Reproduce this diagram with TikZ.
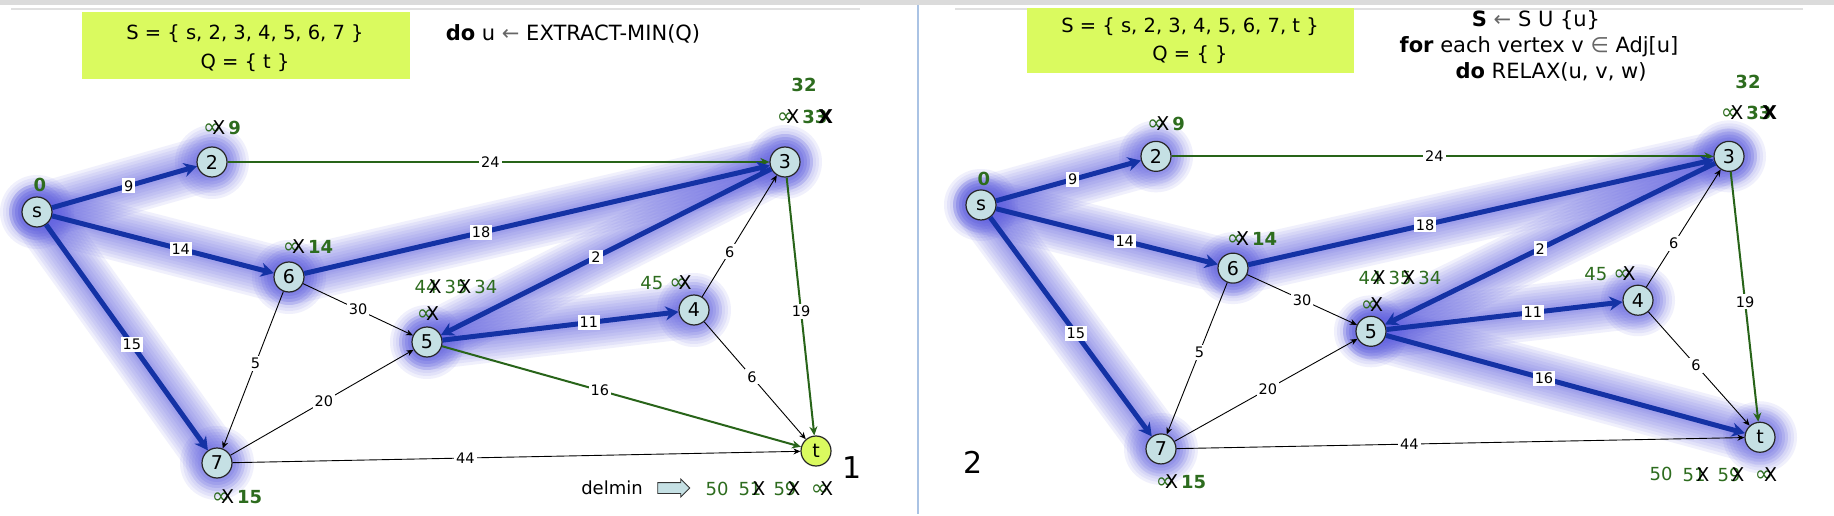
\documentclass[tikz,border=0pt]{standalone}
\usepackage{fontspec}
\setmainfont{DejaVu Sans}
\usetikzlibrary{arrows.meta,shapes.arrows}
\definecolor{nodefill}{RGB}{197,224,228}
\definecolor{tyellow}{RGB}{218,250,95}
\definecolor{boxyellow}{RGB}{218,250,95}
\definecolor{lblgreen}{RGB}{45,108,30}
\definecolor{edgegreen}{RGB}{40,100,25}
\definecolor{treeblue}{RGB}{20,50,165}
\definecolor{glowc}{RGB}{95,95,225}
\definecolor{divblue}{RGB}{170,195,228}
\newcommand\fs[1]{\fontsize{#1}{#1}\selectfont}
\newcommand\crs[1]{#1\kern-0.5em{\fs{19}\color{black}X}}
\newcommand\infsym{{\fs{22}∞}}
\tikzset{
 nd/.style={circle, draw=black!85, line width=1.2pt, fill=nodefill, minimum size=30pt, inner sep=0pt, font=\fs{19}},
 treeedge/.style={draw=treeblue, line width=5pt, -{Stealth[length=13pt,width=14pt]}},
 grnedge/.style={draw=edgegreen, line width=2pt, -{Stealth[length=9pt,width=8pt]}},
 thinedge/.style={draw=black, line width=0.9pt, -{Stealth[length=7pt,width=6pt]}},
 elab/.style={fill=white, inner sep=2pt, font=\fs{14.5}, text=black},
 dlab/.style={text=lblgreen, font=\fs{18}, inner sep=0pt},
 hdr/.style={font=\fs{19.5}, inner sep=0pt, text=black},
 code/.style={font=\fs{21}, inner sep=0pt, text=black},
}
\newcommand\glw[2]{\foreach \w in {56,50,44,38,32,26,20,14,10}{\draw[glowc, opacity=0.09, line width=\w pt, line cap=round] (#1) -- (#2);}}
\newcommand\glwn[1]{\foreach \r in {37,34,31,28,25,22,19}{\fill[glowc, opacity=0.09] (#1) circle (\r pt);}}
\newcommand\dgraph[2]{%
 \coordinate (#1cs) at (37,212);
 \coordinate (#1c2) at (212,162);
 \coordinate (#1c3) at (785,162);
 \coordinate (#1c6) at (289,277);
 \coordinate (#1c5) at (427,342);
 \coordinate (#1c4) at (694,310);
 \coordinate (#1c7) at (217,463);
 \coordinate (#1ct) at (816,451);
 \glw{#1cs}{#1c2}\glw{#1cs}{#1c6}\glw{#1cs}{#1c7}\glw{#1c6}{#1c3}\glw{#1c3}{#1c5}\glw{#1c5}{#1c4}%
 \glwn{#1cs}\glwn{#1c2}\glwn{#1c3}\glwn{#1c6}\glwn{#1c5}\glwn{#1c4}\glwn{#1c7}%
 \ifnum#2=1 \glw{#1c5}{#1ct}\glwn{#1ct}\fi
 \node[nd] (#1s) at (#1cs) {s};
 \node[nd] (#1n2) at (#1c2) {2};
 \node[nd] (#1n3) at (#1c3) {3};
 \node[nd] (#1n6) at (#1c6) {6};
 \node[nd] (#1n5) at (#1c5) {5};
 \node[nd] (#1n4) at (#1c4) {4};
 \node[nd] (#1n7) at (#1c7) {7};
 \ifnum#2=1 \node[nd] (#1t) at (#1ct) {t};\else \node[nd, fill=tyellow] (#1t) at (#1ct) {t};\fi
 \draw[treeedge] (#1s) -- node[elab, pos=0.53] (#1e9) {9} (#1n2);
 \draw[treeedge] (#1s) -- node[elab, pos=0.58] (#1e14) {14} (#1n6);
 \draw[treeedge] (#1s) -- node[elab, pos=0.53] (#1e15) {15} (#1n7);
 \draw[grnedge] (#1n2) -- node[elab, pos=0.485] (#1e24) {24} (#1n3);
 \draw[treeedge] (#1n6) -- node[elab, pos=0.38] (#1e18) {18} (#1n3);
 \draw[treeedge] (#1n3) -- node[elab, pos=0.53] (#1e2) {2} (#1n5);
 \draw[treeedge] (#1n5) -- node[elab, pos=0.62] (#1e11) {11} (#1n4);
 \draw[thinedge] (#1n6) -- node[elab, pos=0.5] (#1e30) {30} (#1n5);
 \draw[thinedge] (#1n6) -- node[elab, pos=0.46] (#1e5) {5} (#1n7);
 \draw[thinedge] (#1n7) -- node[elab, pos=0.51] (#1e20) {20} (#1n5);
 \draw[thinedge] (#1n7) -- node[elab, pos=0.41] (#1e44) {44} (#1t);
 \draw[thinedge] (#1n4) -- node[elab, pos=0.37] (#1e6a) {6} (#1n3);
 \draw[thinedge] (#1n4) -- node[elab, pos=0.47] (#1e6b) {6} (#1t);
 \draw[grnedge] (#1n3) -- node[elab, pos=0.52] (#1e19) {19} (#1t);
 \ifnum#2=1 \draw[treeedge] (#1n5) -- node[elab, pos=0.44] (#1e16) {16} (#1t);
 \else \draw[grnedge] (#1n5) -- node[elab, pos=0.44] (#1e16) {16} (#1t);\fi
 \node[dlab] (#1ds) at (40,185) {\textbf{0}};
 \node[dlab] (#1d2) at (222,128) {\crs{\infsym}\,\textbf{9}};
 \node[dlab] (#1d6) at (308,247) {\crs{\infsym}\,\textbf{14}};
 \node[dlab] (#1d3a) at (804,85) {\textbf{32}};
 \node[dlab] (#1d3b) at (805,117) {\crs{\infsym}\,\textbf{\crs{33}}};
 \node[dlab] (#1d5a) at (456,287) {\crs{44}\,\crs{35}\,34};
 \node[dlab] (#1d5b) at (428,314) {\crs{\infsym}};
 \node[dlab] (#1d4) at (666,283) {45\,\,\crs{\infsym}};
 \node[dlab] (#1d7) at (237,497) {\crs{\infsym}\,\textbf{15}};
 \node[dlab] (#1dt1) at (717,489) {50};
 \node[dlab] (#1dt2) at (752,489) {\crs{51}};
 \node[dlab] (#1dt3) at (787,489) {\crs{59}};
 \node[dlab] (#1dt4) at (822,489) {\crs{\infsym}};
}
\begin{document}
\begin{tikzpicture}[x=1pt,y=-1pt]
\useasboundingbox (0,0) rectangle (1834,516);
\fill[white] (0,0) rectangle (1834,516);
\fill[black!14] (0,0) rectangle (1834,5);
\draw[black!12, line width=2pt] (11,9) -- (860,9);
\draw[black!12, line width=2pt] (955,9) -- (1803,9);
\draw[divblue, line width=2pt] (918,5) -- (918,514);
% left panel
\node[fill=boxyellow, minimum width=328pt, minimum height=67pt, inner sep=0pt] (Lbox) at (246,45.5) {};
\node[hdr] (LS) at (245,34) {S = \{ s, 2, 3, 4, 5, 6, 7 \}};
\node[hdr] (LQ) at (245,63) {Q = \{ t \}};
\node[code] (Ltitle) at (573,34) {\textbf{do} u \textcolor{black!60}{←} EXTRACT-MIN(Q)};
\dgraph{L}{0}
\node[font=\fs{30}, inner sep=0pt] (Lnum) at (852,468) {1};
\node[font=\fs{18}, inner sep=0pt] (Ldel) at (612,488) {delmin};
\node[single arrow, draw=black!80, fill=nodefill, line width=0.8pt, minimum height=32pt, minimum width=17pt, inner xsep=0pt, inner ysep=5pt, single arrow head extend=3.5pt] (Larr) at (671,488) {};
% right panel
\node[fill=boxyellow, minimum width=327pt, minimum height=65pt, inner sep=0pt] (Rbox) at (1190.5,40.5) {};
\node[hdr] (RS) at (1190,27) {S = \{ s, 2, 3, 4, 5, 6, 7, t \}};
\node[hdr] (RQ) at (1190,55) {Q = \{ \}};
\node[code] (Rc1) at (1536,20) {\textbf{S} \textcolor{black!60}{←} S U \{u\}};
\node[code] (Rc2) at (1539,47) {\textbf{for} each vertex v \textcolor{black!60}{∈} Adj[u]};
\node[code] (Rc3) at (1551,72) {\textbf{do} RELAX(u, v, w)};
\begin{scope}[shift={(944,-1.1)}, yscale=0.972]
\dgraph{R}{1}
\end{scope}
\node[font=\fs{30}, inner sep=0pt] (Rnum) at (973,462) {2};
\end{tikzpicture}
\end{document}
